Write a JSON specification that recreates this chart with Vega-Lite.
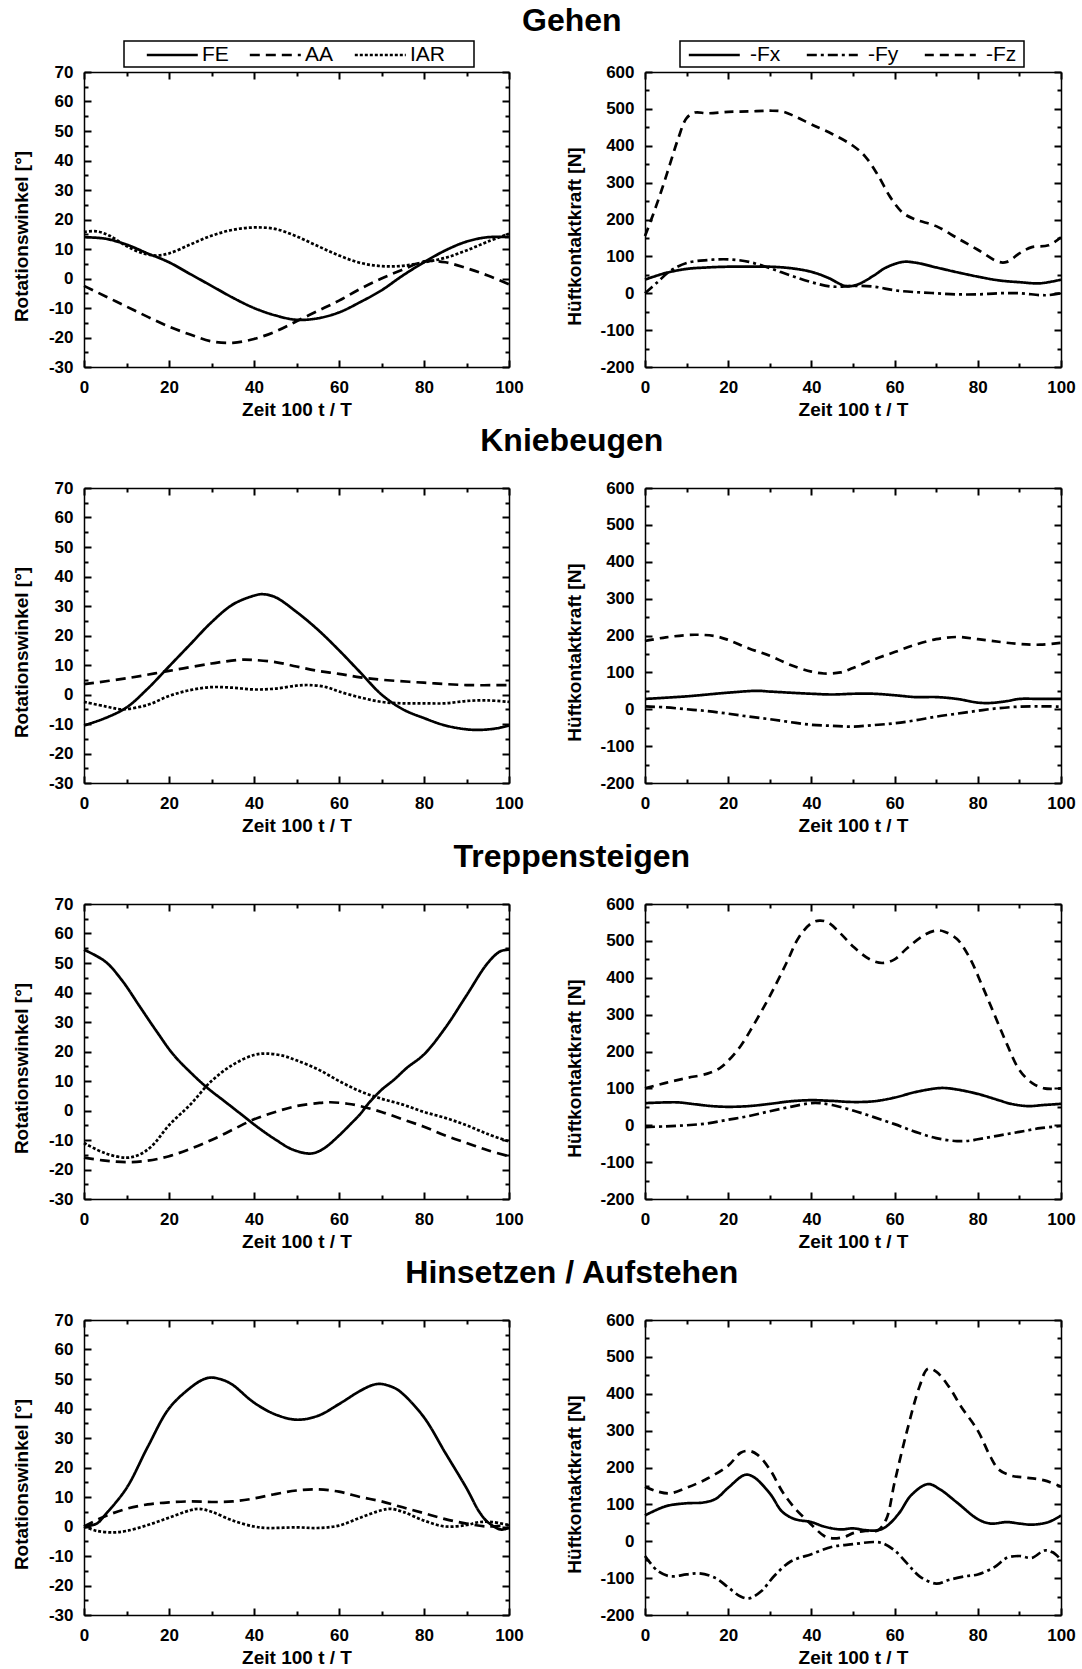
{
"$schema":"https://vega.github.io/schema/vega-lite/v6.json",
"padding":{"left":12,"top":5,"right":5,"bottom":0},
"config":{
 "font":"Liberation Sans",
 "view":{"stroke":null},
 "axis":{"domainColor":"black","domainWidth":1.5,"tickColor":"black","tickWidth":2,"labelFont":"Liberation Sans","labelFontSize":17,"labelFontWeight":"bold","labelColor":"black","titleFont":"Liberation Sans","titleFontSize":19,"titleFontWeight":"bold","titleColor":"black","grid":false,"labelFlush":false,"labelOverlap":false,"labelBound":false},
 "axisLeft":{"titleY":164},
 "legend":{"strokeColor":"black","strokeWidth":1.5,"padding":2,"labelFont":"Liberation Sans","labelFontSize":21,"labelFontWeight":"normal","labelColor":"black","symbolStrokeColor":"black","symbolStrokeWidth":2.5,"direction":"horizontal","orient":"none","titleOrient":"right","titleFontSize":10},
 "title":{"font":"Liberation Sans","fontSize":32,"fontWeight":"bold","color":"black","anchor":"middle","dx":28},
 "line":{"color":"black","strokeWidth":2.7,"interpolate":"catmull-rom"}
},
"datasets":{
"gw":[
{"s":"FE","t":0,"v":14},{"s":"FE","t":5,"v":13.5},{"s":"FE","t":10,"v":11.5},{"s":"FE","t":15,"v":8.5},{"s":"FE","t":20,"v":5.5},{"s":"FE","t":25,"v":1.5},{"s":"FE","t":30,"v":-2.5},{"s":"FE","t":35,"v":-6.5},{"s":"FE","t":40,"v":-10},{"s":"FE","t":45,"v":-12.5},{"s":"FE","t":50,"v":-14},{"s":"FE","t":55,"v":-13.5},{"s":"FE","t":60,"v":-11.5},{"s":"FE","t":65,"v":-8},{"s":"FE","t":70,"v":-4},{"s":"FE","t":75,"v":1},{"s":"FE","t":80,"v":5.5},{"s":"FE","t":85,"v":9.5},{"s":"FE","t":90,"v":12.5},{"s":"FE","t":95,"v":14},{"s":"FE","t":100,"v":14},
{"s":"AA","t":0,"v":-2.5},{"s":"AA","t":5,"v":-6},{"s":"AA","t":10,"v":-9.5},{"s":"AA","t":15,"v":-13},{"s":"AA","t":20,"v":-16.3},{"s":"AA","t":25,"v":-19},{"s":"AA","t":30,"v":-21.3},{"s":"AA","t":35,"v":-21.8},{"s":"AA","t":40,"v":-20.5},{"s":"AA","t":45,"v":-18},{"s":"AA","t":50,"v":-14.5},{"s":"AA","t":55,"v":-11},{"s":"AA","t":60,"v":-7.5},{"s":"AA","t":65,"v":-3.5},{"s":"AA","t":70,"v":0},{"s":"AA","t":75,"v":3},{"s":"AA","t":80,"v":5.8},{"s":"AA","t":85,"v":5.5},{"s":"AA","t":90,"v":3.5},{"s":"AA","t":95,"v":1},{"s":"AA","t":100,"v":-2},
{"s":"IAR","t":0,"v":15.8},{"s":"IAR","t":3,"v":16},{"s":"IAR","t":6,"v":14.5},{"s":"IAR","t":10,"v":11},{"s":"IAR","t":14,"v":8.5},{"s":"IAR","t":17,"v":7.8},{"s":"IAR","t":20,"v":8.5},{"s":"IAR","t":25,"v":11.5},{"s":"IAR","t":30,"v":14.5},{"s":"IAR","t":35,"v":16.5},{"s":"IAR","t":40,"v":17.3},{"s":"IAR","t":45,"v":16.8},{"s":"IAR","t":50,"v":14.3},{"s":"IAR","t":55,"v":11},{"s":"IAR","t":60,"v":7.8},{"s":"IAR","t":65,"v":5.3},{"s":"IAR","t":70,"v":4.2},{"s":"IAR","t":75,"v":4.3},{"s":"IAR","t":80,"v":5.5},{"s":"IAR","t":85,"v":7},{"s":"IAR","t":90,"v":9.5},{"s":"IAR","t":95,"v":12.5},{"s":"IAR","t":100,"v":15.2}
],
"gf":[
{"s":"-Fx","t":0,"v":37},{"s":"-Fx","t":5,"v":55},{"s":"-Fx","t":10,"v":66},{"s":"-Fx","t":15,"v":70},{"s":"-Fx","t":20,"v":72},{"s":"-Fx","t":25,"v":72},{"s":"-Fx","t":30,"v":72},{"s":"-Fx","t":35,"v":68},{"s":"-Fx","t":40,"v":58},{"s":"-Fx","t":44,"v":42},{"s":"-Fx","t":48,"v":20},{"s":"-Fx","t":50,"v":20},{"s":"-Fx","t":52,"v":28},{"s":"-Fx","t":55,"v":48},{"s":"-Fx","t":58,"v":70},{"s":"-Fx","t":62,"v":85},{"s":"-Fx","t":65,"v":83},{"s":"-Fx","t":70,"v":70},{"s":"-Fx","t":75,"v":57},{"s":"-Fx","t":80,"v":45},{"s":"-Fx","t":85,"v":35},{"s":"-Fx","t":90,"v":30},{"s":"-Fx","t":95,"v":27},{"s":"-Fx","t":100,"v":37},
{"s":"-Fy","t":0,"v":0},{"s":"-Fy","t":3,"v":30},{"s":"-Fy","t":6,"v":60},{"s":"-Fy","t":10,"v":82},{"s":"-Fy","t":15,"v":90},{"s":"-Fy","t":20,"v":92},{"s":"-Fy","t":25,"v":85},{"s":"-Fy","t":30,"v":68},{"s":"-Fy","t":35,"v":48},{"s":"-Fy","t":40,"v":30},{"s":"-Fy","t":45,"v":18},{"s":"-Fy","t":50,"v":20},{"s":"-Fy","t":55,"v":18},{"s":"-Fy","t":60,"v":8},{"s":"-Fy","t":65,"v":3},{"s":"-Fy","t":70,"v":0},{"s":"-Fy","t":75,"v":-3},{"s":"-Fy","t":80,"v":-3},{"s":"-Fy","t":85,"v":0},{"s":"-Fy","t":90,"v":0},{"s":"-Fy","t":95,"v":-5},{"s":"-Fy","t":97,"v":-5},{"s":"-Fy","t":100,"v":0},
{"s":"-Fz","t":0,"v":155},{"s":"-Fz","t":2,"v":215},{"s":"-Fz","t":4,"v":280},{"s":"-Fz","t":6,"v":350},{"s":"-Fz","t":8,"v":420},{"s":"-Fz","t":10,"v":475},{"s":"-Fz","t":12,"v":490},{"s":"-Fz","t":15,"v":488},{"s":"-Fz","t":20,"v":492},{"s":"-Fz","t":25,"v":493},{"s":"-Fz","t":30,"v":495},{"s":"-Fz","t":33,"v":493},{"s":"-Fz","t":36,"v":480},{"s":"-Fz","t":40,"v":458},{"s":"-Fz","t":45,"v":432},{"s":"-Fz","t":50,"v":400},{"s":"-Fz","t":53,"v":370},{"s":"-Fz","t":56,"v":320},{"s":"-Fz","t":59,"v":260},{"s":"-Fz","t":62,"v":218},{"s":"-Fz","t":65,"v":200},{"s":"-Fz","t":70,"v":182},{"s":"-Fz","t":75,"v":150},{"s":"-Fz","t":80,"v":118},{"s":"-Fz","t":85,"v":85},{"s":"-Fz","t":87,"v":85},{"s":"-Fz","t":90,"v":108},{"s":"-Fz","t":93,"v":125},{"s":"-Fz","t":97,"v":130},{"s":"-Fz","t":100,"v":152}
],
"kw":[
{"s":"FE","t":0,"v":-10.5},{"s":"FE","t":5,"v":-8},{"s":"FE","t":10,"v":-4.4},{"s":"FE","t":15,"v":2},{"s":"FE","t":20,"v":9.5},{"s":"FE","t":25,"v":17},{"s":"FE","t":30,"v":24.5},{"s":"FE","t":35,"v":30.5},{"s":"FE","t":40,"v":33.5},{"s":"FE","t":42,"v":34},{"s":"FE","t":45,"v":33},{"s":"FE","t":50,"v":28},{"s":"FE","t":55,"v":22},{"s":"FE","t":60,"v":15},{"s":"FE","t":65,"v":7.5},{"s":"FE","t":70,"v":0},{"s":"FE","t":75,"v":-5},{"s":"FE","t":80,"v":-8},{"s":"FE","t":85,"v":-10.5},{"s":"FE","t":90,"v":-11.8},{"s":"FE","t":93,"v":-12},{"s":"FE","t":97,"v":-11.5},{"s":"FE","t":100,"v":-10.5},
{"s":"AA","t":0,"v":3.5},{"s":"AA","t":10,"v":5.5},{"s":"AA","t":20,"v":8},{"s":"AA","t":30,"v":10.5},{"s":"AA","t":37,"v":11.8},{"s":"AA","t":40,"v":11.7},{"s":"AA","t":45,"v":11},{"s":"AA","t":50,"v":9.5},{"s":"AA","t":55,"v":8},{"s":"AA","t":60,"v":7},{"s":"AA","t":65,"v":5.8},{"s":"AA","t":70,"v":5},{"s":"AA","t":80,"v":4},{"s":"AA","t":90,"v":3.2},{"s":"AA","t":100,"v":3.2},
{"s":"IAR","t":0,"v":-2.5},{"s":"IAR","t":5,"v":-4},{"s":"IAR","t":9,"v":-5},{"s":"IAR","t":15,"v":-3.5},{"s":"IAR","t":20,"v":-0.5},{"s":"IAR","t":25,"v":1.5},{"s":"IAR","t":30,"v":2.5},{"s":"IAR","t":35,"v":2.3},{"s":"IAR","t":40,"v":1.7},{"s":"IAR","t":45,"v":2},{"s":"IAR","t":50,"v":3},{"s":"IAR","t":53,"v":3.2},{"s":"IAR","t":57,"v":2.5},{"s":"IAR","t":60,"v":1},{"s":"IAR","t":65,"v":-1},{"s":"IAR","t":70,"v":-2.5},{"s":"IAR","t":75,"v":-3},{"s":"IAR","t":80,"v":-3},{"s":"IAR","t":85,"v":-3},{"s":"IAR","t":90,"v":-2.2},{"s":"IAR","t":95,"v":-2},{"s":"IAR","t":100,"v":-2.5}
],
"kf":[
{"s":"-Fx","t":0,"v":28},{"s":"-Fx","t":10,"v":35},{"s":"-Fx","t":20,"v":45},{"s":"-Fx","t":27,"v":50},{"s":"-Fx","t":30,"v":48},{"s":"-Fx","t":40,"v":42},{"s":"-Fx","t":45,"v":40},{"s":"-Fx","t":50,"v":42},{"s":"-Fx","t":55,"v":42},{"s":"-Fx","t":60,"v":38},{"s":"-Fx","t":65,"v":33},{"s":"-Fx","t":70,"v":33},{"s":"-Fx","t":75,"v":28},{"s":"-Fx","t":80,"v":18},{"s":"-Fx","t":83,"v":17},{"s":"-Fx","t":87,"v":22},{"s":"-Fx","t":90,"v":28},{"s":"-Fx","t":95,"v":28},{"s":"-Fx","t":100,"v":28},
{"s":"-Fy","t":0,"v":8},{"s":"-Fy","t":5,"v":5},{"s":"-Fy","t":10,"v":0},{"s":"-Fy","t":15,"v":-5},{"s":"-Fy","t":20,"v":-12},{"s":"-Fy","t":25,"v":-20},{"s":"-Fy","t":30,"v":-27},{"s":"-Fy","t":35,"v":-35},{"s":"-Fy","t":40,"v":-42},{"s":"-Fy","t":45,"v":-45},{"s":"-Fy","t":50,"v":-47},{"s":"-Fy","t":55,"v":-43},{"s":"-Fy","t":60,"v":-38},{"s":"-Fy","t":65,"v":-30},{"s":"-Fy","t":70,"v":-20},{"s":"-Fy","t":75,"v":-12},{"s":"-Fy","t":80,"v":-4},{"s":"-Fy","t":85,"v":3},{"s":"-Fy","t":90,"v":7},{"s":"-Fy","t":95,"v":8},{"s":"-Fy","t":100,"v":7},
{"s":"-Fz","t":0,"v":185},{"s":"-Fz","t":5,"v":195},{"s":"-Fz","t":12,"v":202},{"s":"-Fz","t":17,"v":198},{"s":"-Fz","t":20,"v":188},{"s":"-Fz","t":25,"v":165},{"s":"-Fz","t":30,"v":145},{"s":"-Fz","t":35,"v":120},{"s":"-Fz","t":40,"v":102},{"s":"-Fz","t":43,"v":97},{"s":"-Fz","t":47,"v":100},{"s":"-Fz","t":50,"v":112},{"s":"-Fz","t":55,"v":135},{"s":"-Fz","t":60,"v":155},{"s":"-Fz","t":65,"v":175},{"s":"-Fz","t":70,"v":190},{"s":"-Fz","t":75,"v":196},{"s":"-Fz","t":80,"v":190},{"s":"-Fz","t":85,"v":183},{"s":"-Fz","t":90,"v":177},{"s":"-Fz","t":95,"v":175},{"s":"-Fz","t":100,"v":180}
],
"tw":[
{"s":"FE","t":0,"v":54.5},{"s":"FE","t":5,"v":50.5},{"s":"FE","t":9,"v":44},{"s":"FE","t":13,"v":35.5},{"s":"FE","t":17,"v":27},{"s":"FE","t":21,"v":19},{"s":"FE","t":25,"v":13},{"s":"FE","t":29,"v":7.7},{"s":"FE","t":33,"v":3.2},{"s":"FE","t":37,"v":-1.3},{"s":"FE","t":41,"v":-5.8},{"s":"FE","t":45,"v":-9.8},{"s":"FE","t":49,"v":-13.2},{"s":"FE","t":53,"v":-14.6},{"s":"FE","t":55,"v":-14},{"s":"FE","t":57,"v":-12.3},{"s":"FE","t":60,"v":-8.5},{"s":"FE","t":63,"v":-4.2},{"s":"FE","t":65,"v":-1.2},{"s":"FE","t":67,"v":2.5},{"s":"FE","t":70,"v":7},{"s":"FE","t":73,"v":10.5},{"s":"FE","t":76,"v":14.5},{"s":"FE","t":80,"v":19},{"s":"FE","t":85,"v":28},{"s":"FE","t":90,"v":39},{"s":"FE","t":95,"v":50},{"s":"FE","t":98,"v":54},{"s":"FE","t":100,"v":54.5},
{"s":"AA","t":0,"v":-16},{"s":"AA","t":5,"v":-17},{"s":"AA","t":10,"v":-17.5},{"s":"AA","t":15,"v":-17},{"s":"AA","t":20,"v":-15.5},{"s":"AA","t":25,"v":-13},{"s":"AA","t":30,"v":-10},{"s":"AA","t":35,"v":-6.5},{"s":"AA","t":40,"v":-3},{"s":"AA","t":45,"v":-0.5},{"s":"AA","t":50,"v":1.5},{"s":"AA","t":55,"v":2.5},{"s":"AA","t":58,"v":2.8},{"s":"AA","t":62,"v":2.3},{"s":"AA","t":65,"v":1.5},{"s":"AA","t":70,"v":-0.5},{"s":"AA","t":75,"v":-3},{"s":"AA","t":80,"v":-5.5},{"s":"AA","t":85,"v":-8.5},{"s":"AA","t":90,"v":-11},{"s":"AA","t":95,"v":-13.5},{"s":"AA","t":100,"v":-15.5},
{"s":"IAR","t":0,"v":-11},{"s":"IAR","t":5,"v":-14.5},{"s":"IAR","t":10,"v":-16},{"s":"IAR","t":13,"v":-15},{"s":"IAR","t":16,"v":-12},{"s":"IAR","t":20,"v":-5},{"s":"IAR","t":25,"v":2},{"s":"IAR","t":30,"v":10},{"s":"IAR","t":35,"v":15.5},{"s":"IAR","t":40,"v":18.8},{"s":"IAR","t":43,"v":19.3},{"s":"IAR","t":47,"v":18.5},{"s":"IAR","t":50,"v":17},{"s":"IAR","t":55,"v":14},{"s":"IAR","t":60,"v":10},{"s":"IAR","t":65,"v":6.5},{"s":"IAR","t":70,"v":4},{"s":"IAR","t":75,"v":2},{"s":"IAR","t":80,"v":-0.5},{"s":"IAR","t":85,"v":-2.5},{"s":"IAR","t":90,"v":-5},{"s":"IAR","t":95,"v":-8},{"s":"IAR","t":100,"v":-10.5}
],
"tf":[
{"s":"-Fx","t":0,"v":60},{"s":"-Fx","t":5,"v":62},{"s":"-Fx","t":8,"v":62},{"s":"-Fx","t":12,"v":57},{"s":"-Fx","t":16,"v":52},{"s":"-Fx","t":20,"v":50},{"s":"-Fx","t":25,"v":52},{"s":"-Fx","t":30,"v":58},{"s":"-Fx","t":35,"v":65},{"s":"-Fx","t":40,"v":68},{"s":"-Fx","t":45,"v":66},{"s":"-Fx","t":50,"v":63},{"s":"-Fx","t":55,"v":65},{"s":"-Fx","t":60,"v":75},{"s":"-Fx","t":65,"v":90},{"s":"-Fx","t":70,"v":100},{"s":"-Fx","t":72,"v":101},{"s":"-Fx","t":75,"v":97},{"s":"-Fx","t":80,"v":85},{"s":"-Fx","t":85,"v":68},{"s":"-Fx","t":88,"v":58},{"s":"-Fx","t":92,"v":52},{"s":"-Fx","t":96,"v":55},{"s":"-Fx","t":100,"v":58},
{"s":"-Fy","t":0,"v":-5},{"s":"-Fy","t":5,"v":-3},{"s":"-Fy","t":10,"v":0},{"s":"-Fy","t":15,"v":5},{"s":"-Fy","t":20,"v":15},{"s":"-Fy","t":25,"v":25},{"s":"-Fy","t":30,"v":38},{"s":"-Fy","t":35,"v":50},{"s":"-Fy","t":40,"v":60},{"s":"-Fy","t":42,"v":60},{"s":"-Fy","t":45,"v":55},{"s":"-Fy","t":50,"v":40},{"s":"-Fy","t":55,"v":22},{"s":"-Fy","t":60,"v":3},{"s":"-Fy","t":65,"v":-18},{"s":"-Fy","t":70,"v":-35},{"s":"-Fy","t":75,"v":-43},{"s":"-Fy","t":78,"v":-42},{"s":"-Fy","t":80,"v":-38},{"s":"-Fy","t":85,"v":-28},{"s":"-Fy","t":90,"v":-18},{"s":"-Fy","t":95,"v":-8},{"s":"-Fy","t":100,"v":-2},
{"s":"-Fz","t":0,"v":100},{"s":"-Fz","t":5,"v":115},{"s":"-Fz","t":10,"v":128},{"s":"-Fz","t":15,"v":140},{"s":"-Fz","t":18,"v":155},{"s":"-Fz","t":20,"v":175},{"s":"-Fz","t":23,"v":215},{"s":"-Fz","t":26,"v":270},{"s":"-Fz","t":30,"v":350},{"s":"-Fz","t":34,"v":440},{"s":"-Fz","t":37,"v":510},{"s":"-Fz","t":40,"v":548},{"s":"-Fz","t":42,"v":555},{"s":"-Fz","t":44,"v":550},{"s":"-Fz","t":47,"v":520},{"s":"-Fz","t":50,"v":485},{"s":"-Fz","t":54,"v":450},{"s":"-Fz","t":57,"v":440},{"s":"-Fz","t":60,"v":450},{"s":"-Fz","t":63,"v":480},{"s":"-Fz","t":67,"v":515},{"s":"-Fz","t":70,"v":528},{"s":"-Fz","t":72,"v":525},{"s":"-Fz","t":75,"v":505},{"s":"-Fz","t":78,"v":455},{"s":"-Fz","t":81,"v":380},{"s":"-Fz","t":84,"v":300},{"s":"-Fz","t":87,"v":220},{"s":"-Fz","t":90,"v":150},{"s":"-Fz","t":93,"v":115},{"s":"-Fz","t":96,"v":100},{"s":"-Fz","t":100,"v":100}
],
"hw":[
{"s":"FE","t":0,"v":0},{"s":"FE","t":3,"v":1},{"s":"FE","t":5,"v":4},{"s":"FE","t":10,"v":13},{"s":"FE","t":15,"v":27},{"s":"FE","t":20,"v":40},{"s":"FE","t":25,"v":47},{"s":"FE","t":28,"v":49.8},{"s":"FE","t":30,"v":50.5},{"s":"FE","t":33,"v":49.5},{"s":"FE","t":35,"v":48},{"s":"FE","t":40,"v":42},{"s":"FE","t":45,"v":38},{"s":"FE","t":50,"v":36.2},{"s":"FE","t":55,"v":37.5},{"s":"FE","t":60,"v":41.5},{"s":"FE","t":65,"v":46},{"s":"FE","t":68,"v":48},{"s":"FE","t":70,"v":48.3},{"s":"FE","t":73,"v":47},{"s":"FE","t":75,"v":45},{"s":"FE","t":80,"v":37},{"s":"FE","t":85,"v":25},{"s":"FE","t":90,"v":13},{"s":"FE","t":93,"v":5},{"s":"FE","t":95,"v":1.5},{"s":"FE","t":98,"v":-1},{"s":"FE","t":100,"v":-0.5},
{"s":"AA","t":0,"v":0},{"s":"AA","t":5,"v":3.5},{"s":"AA","t":10,"v":6},{"s":"AA","t":15,"v":7.5},{"s":"AA","t":20,"v":8.2},{"s":"AA","t":25,"v":8.5},{"s":"AA","t":30,"v":8.3},{"s":"AA","t":35,"v":8.5},{"s":"AA","t":40,"v":9.5},{"s":"AA","t":45,"v":11},{"s":"AA","t":50,"v":12.2},{"s":"AA","t":55,"v":12.6},{"s":"AA","t":60,"v":11.8},{"s":"AA","t":65,"v":10},{"s":"AA","t":70,"v":8.5},{"s":"AA","t":75,"v":6.5},{"s":"AA","t":80,"v":4.5},{"s":"AA","t":85,"v":2.5},{"s":"AA","t":90,"v":1},{"s":"AA","t":95,"v":0},{"s":"AA","t":100,"v":0.5},
{"s":"IAR","t":0,"v":0},{"s":"IAR","t":3,"v":-1.5},{"s":"IAR","t":7,"v":-2},{"s":"IAR","t":10,"v":-1.5},{"s":"IAR","t":15,"v":0.5},{"s":"IAR","t":20,"v":3},{"s":"IAR","t":25,"v":5.5},{"s":"IAR","t":27,"v":6},{"s":"IAR","t":30,"v":5},{"s":"IAR","t":35,"v":2},{"s":"IAR","t":40,"v":0},{"s":"IAR","t":43,"v":-0.5},{"s":"IAR","t":50,"v":-0.3},{"s":"IAR","t":55,"v":-0.5},{"s":"IAR","t":60,"v":0.3},{"s":"IAR","t":65,"v":3},{"s":"IAR","t":70,"v":5.5},{"s":"IAR","t":72,"v":6},{"s":"IAR","t":75,"v":5},{"s":"IAR","t":80,"v":2},{"s":"IAR","t":85,"v":0},{"s":"IAR","t":90,"v":0.5},{"s":"IAR","t":93,"v":1.5},{"s":"IAR","t":96,"v":1.5},{"s":"IAR","t":100,"v":0.5}
],
"hf":[
{"s":"-Fx","t":0,"v":70},{"s":"-Fx","t":5,"v":95},{"s":"-Fx","t":10,"v":103},{"s":"-Fx","t":14,"v":105},{"s":"-Fx","t":17,"v":115},{"s":"-Fx","t":20,"v":145},{"s":"-Fx","t":24,"v":180},{"s":"-Fx","t":26,"v":175},{"s":"-Fx","t":30,"v":130},{"s":"-Fx","t":33,"v":80},{"s":"-Fx","t":36,"v":60},{"s":"-Fx","t":40,"v":52},{"s":"-Fx","t":43,"v":40},{"s":"-Fx","t":47,"v":32},{"s":"-Fx","t":50,"v":35},{"s":"-Fx","t":53,"v":30},{"s":"-Fx","t":56,"v":30},{"s":"-Fx","t":58,"v":40},{"s":"-Fx","t":61,"v":75},{"s":"-Fx","t":64,"v":125},{"s":"-Fx","t":68,"v":155},{"s":"-Fx","t":71,"v":140},{"s":"-Fx","t":75,"v":105},{"s":"-Fx","t":80,"v":60},{"s":"-Fx","t":83,"v":48},{"s":"-Fx","t":87,"v":52},{"s":"-Fx","t":90,"v":48},{"s":"-Fx","t":93,"v":45},{"s":"-Fx","t":97,"v":52},{"s":"-Fx","t":100,"v":70},
{"s":"-Fy","t":0,"v":-40},{"s":"-Fy","t":3,"v":-80},{"s":"-Fy","t":6,"v":-95},{"s":"-Fy","t":10,"v":-90},{"s":"-Fy","t":13,"v":-87},{"s":"-Fy","t":17,"v":-100},{"s":"-Fy","t":20,"v":-125},{"s":"-Fy","t":23,"v":-150},{"s":"-Fy","t":25,"v":-155},{"s":"-Fy","t":28,"v":-135},{"s":"-Fy","t":31,"v":-95},{"s":"-Fy","t":35,"v":-55},{"s":"-Fy","t":40,"v":-35},{"s":"-Fy","t":45,"v":-15},{"s":"-Fy","t":50,"v":-8},{"s":"-Fy","t":55,"v":-2},{"s":"-Fy","t":57,"v":-5},{"s":"-Fy","t":60,"v":-25},{"s":"-Fy","t":63,"v":-60},{"s":"-Fy","t":66,"v":-95},{"s":"-Fy","t":70,"v":-115},{"s":"-Fy","t":73,"v":-105},{"s":"-Fy","t":77,"v":-95},{"s":"-Fy","t":80,"v":-90},{"s":"-Fy","t":84,"v":-70},{"s":"-Fy","t":87,"v":-45},{"s":"-Fy","t":90,"v":-40},{"s":"-Fy","t":93,"v":-45},{"s":"-Fy","t":96,"v":-25},{"s":"-Fy","t":98,"v":-30},{"s":"-Fy","t":100,"v":-50},
{"s":"-Fz","t":0,"v":148},{"s":"-Fz","t":3,"v":135},{"s":"-Fz","t":6,"v":130},{"s":"-Fz","t":10,"v":145},{"s":"-Fz","t":15,"v":170},{"s":"-Fz","t":20,"v":205},{"s":"-Fz","t":23,"v":240},{"s":"-Fz","t":25,"v":245},{"s":"-Fz","t":27,"v":235},{"s":"-Fz","t":30,"v":195},{"s":"-Fz","t":33,"v":135},{"s":"-Fz","t":36,"v":90},{"s":"-Fz","t":40,"v":45},{"s":"-Fz","t":43,"v":15},{"s":"-Fz","t":45,"v":8},{"s":"-Fz","t":48,"v":12},{"s":"-Fz","t":50,"v":22},{"s":"-Fz","t":53,"v":28},{"s":"-Fz","t":56,"v":30},{"s":"-Fz","t":58,"v":60},{"s":"-Fz","t":60,"v":160},{"s":"-Fz","t":63,"v":300},{"s":"-Fz","t":66,"v":420},{"s":"-Fz","t":68,"v":468},{"s":"-Fz","t":70,"v":460},{"s":"-Fz","t":73,"v":420},{"s":"-Fz","t":76,"v":365},{"s":"-Fz","t":80,"v":300},{"s":"-Fz","t":83,"v":230},{"s":"-Fz","t":85,"v":195},{"s":"-Fz","t":88,"v":178},{"s":"-Fz","t":92,"v":172},{"s":"-Fz","t":96,"v":165},{"s":"-Fz","t":100,"v":148}
]
},
"spacing":6,
"resolve":{"scale":{"strokeDash":"independent"},"legend":{"strokeDash":"independent"}},
"vconcat":[
{"title":{"text":"Gehen","offset":2},"spacing":41,"resolve":{"scale":{"strokeDash":"independent"},"legend":{"strokeDash":"independent"}},
"hconcat":[
{"width":425,"height":295,"data":{"name":"gw"},"resolve":{"axis":{"x":"independent","y":"independent"}},"layer":[
 {"mark":{"type":"line"},"encoding":{
  "x":{"field":"t","type":"quantitative","scale":{"domain":[0,100],"nice":false},"axis":{"orient":"bottom","values":[0,10,20,30,40,50,60,70,80,90,100],"labelExpr":"datum.value % 20 == 0 ? '' + datum.value : ''","tickSize":{"condition":{"test":"datum.value % 20 == 0","value":-7},"value":-4},"labelPadding":19,"title":"Zeit 100 t / T","titlePadding":2}},
  "y":{"field":"v","type":"quantitative","scale":{"domain":[-30,70],"nice":false,"zero":false},"axis":{"orient":"left","values":[-30,-25,-20,-15,-10,-5,0,5,10,15,20,25,30,35,40,45,50,55,60,65,70],"labelExpr":"datum.value % 10 == 0 ? '' + datum.value : ''","tickSize":{"condition":{"test":"datum.value % 10 == 0","value":-7},"value":-4},"labelPadding":18,"title":"Rotationswinkel [°]","titlePadding":17}},
  "strokeDash":{"field":"s","type":"nominal","scale":{"domain":["FE","AA","IAR"],"range":[[1,0],[10,6],[3,2]]},"legend":{"title":" ","titlePadding":27,"legendX":40,"legendY":-31,"symbolType":"M-1,0H4","symbolSize":416,"symbolOffset":19,"labelOffset":33,"columnPadding":0}}}},
 {"mark":{"type":"line","opacity":0},"encoding":{
  "x":{"field":"t","type":"quantitative","axis":{"orient":"top","values":[0,10,20,30,40,50,60,70,80,90,100],"labels":false,"tickSize":{"condition":{"test":"datum.value % 20 == 0","value":-7},"value":-4},"title":null}},
  "y":{"field":"v","type":"quantitative","axis":{"orient":"right","values":[-30,-25,-20,-15,-10,-5,0,5,10,15,20,25,30,35,40,45,50,55,60,65,70],"labels":false,"tickSize":{"condition":{"test":"datum.value % 10 == 0","value":-7},"value":-4},"title":null}}}}
]},
{"width":416,"height":295,"data":{"name":"gf"},"resolve":{"axis":{"x":"independent","y":"independent"}},"layer":[
 {"mark":{"type":"line"},"encoding":{
  "x":{"field":"t","type":"quantitative","scale":{"domain":[0,100],"nice":false},"axis":{"orient":"bottom","values":[0,10,20,30,40,50,60,70,80,90,100],"labelExpr":"datum.value % 20 == 0 ? '' + datum.value : ''","tickSize":{"condition":{"test":"datum.value % 20 == 0","value":-7},"value":-4},"labelPadding":19,"title":"Zeit 100 t / T","titlePadding":2}},
  "y":{"field":"v","type":"quantitative","scale":{"domain":[-200,600],"nice":false,"zero":false},"axis":{"orient":"left","values":[-200,-150,-100,-50,0,50,100,150,200,250,300,350,400,450,500,550,600],"labelExpr":"datum.value % 100 == 0 ? '' + datum.value : ''","tickSize":{"condition":{"test":"datum.value % 100 == 0","value":-7},"value":-4},"labelPadding":18,"title":"Hüftkontaktkraft [N]","titlePadding":15}},
  "strokeDash":{"field":"s","type":"nominal","scale":{"domain":["-Fx","-Fy","-Fz"],"range":[[1,0],[10,4,3,4],[9,6]]},"legend":{"title":" ","titlePadding":6,"legendX":35,"legendY":-31,"symbolType":"M-1,0H4","symbolSize":416,"symbolOffset":5,"labelOffset":39,"columnPadding":19}}}},
 {"mark":{"type":"line","opacity":0},"encoding":{
  "x":{"field":"t","type":"quantitative","axis":{"orient":"top","values":[0,10,20,30,40,50,60,70,80,90,100],"labels":false,"tickSize":{"condition":{"test":"datum.value % 20 == 0","value":-7},"value":-4},"title":null}},
  "y":{"field":"v","type":"quantitative","axis":{"orient":"right","values":[-200,-150,-100,-50,0,50,100,150,200,250,300,350,400,450,500,550,600],"labels":false,"tickSize":{"condition":{"test":"datum.value % 100 == 0","value":-7},"value":-4},"title":null}}}}
]}
]},
{"title":{"text":"Kniebeugen","offset":21},"spacing":41,"resolve":{"scale":{"strokeDash":"independent"},"legend":{"strokeDash":"independent"}},
"hconcat":[
{"width":425,"height":295,"data":{"name":"kw"},"resolve":{"axis":{"x":"independent","y":"independent"}},"layer":[
 {"mark":{"type":"line"},"encoding":{
  "x":{"field":"t","type":"quantitative","scale":{"domain":[0,100],"nice":false},"axis":{"orient":"bottom","values":[0,10,20,30,40,50,60,70,80,90,100],"labelExpr":"datum.value % 20 == 0 ? '' + datum.value : ''","tickSize":{"condition":{"test":"datum.value % 20 == 0","value":-7},"value":-4},"labelPadding":19,"title":"Zeit 100 t / T","titlePadding":2}},
  "y":{"field":"v","type":"quantitative","scale":{"domain":[-30,70],"nice":false,"zero":false},"axis":{"orient":"left","values":[-30,-25,-20,-15,-10,-5,0,5,10,15,20,25,30,35,40,45,50,55,60,65,70],"labelExpr":"datum.value % 10 == 0 ? '' + datum.value : ''","tickSize":{"condition":{"test":"datum.value % 10 == 0","value":-7},"value":-4},"labelPadding":18,"title":"Rotationswinkel [°]","titlePadding":17}},
  "strokeDash":{"field":"s","type":"nominal","scale":{"domain":["FE","AA","IAR"],"range":[[1,0],[10,6],[3,2]]},"legend":null}}},
 {"mark":{"type":"line","opacity":0},"encoding":{
  "x":{"field":"t","type":"quantitative","axis":{"orient":"top","values":[0,10,20,30,40,50,60,70,80,90,100],"labels":false,"tickSize":{"condition":{"test":"datum.value % 20 == 0","value":-7},"value":-4},"title":null}},
  "y":{"field":"v","type":"quantitative","axis":{"orient":"right","values":[-30,-25,-20,-15,-10,-5,0,5,10,15,20,25,30,35,40,45,50,55,60,65,70],"labels":false,"tickSize":{"condition":{"test":"datum.value % 10 == 0","value":-7},"value":-4},"title":null}}}}
]},
{"width":416,"height":295,"data":{"name":"kf"},"resolve":{"axis":{"x":"independent","y":"independent"}},"layer":[
 {"mark":{"type":"line"},"encoding":{
  "x":{"field":"t","type":"quantitative","scale":{"domain":[0,100],"nice":false},"axis":{"orient":"bottom","values":[0,10,20,30,40,50,60,70,80,90,100],"labelExpr":"datum.value % 20 == 0 ? '' + datum.value : ''","tickSize":{"condition":{"test":"datum.value % 20 == 0","value":-7},"value":-4},"labelPadding":19,"title":"Zeit 100 t / T","titlePadding":2}},
  "y":{"field":"v","type":"quantitative","scale":{"domain":[-200,600],"nice":false,"zero":false},"axis":{"orient":"left","values":[-200,-150,-100,-50,0,50,100,150,200,250,300,350,400,450,500,550,600],"labelExpr":"datum.value % 100 == 0 ? '' + datum.value : ''","tickSize":{"condition":{"test":"datum.value % 100 == 0","value":-7},"value":-4},"labelPadding":18,"title":"Hüftkontaktkraft [N]","titlePadding":15}},
  "strokeDash":{"field":"s","type":"nominal","scale":{"domain":["-Fx","-Fy","-Fz"],"range":[[1,0],[10,4,3,4],[9,6]]},"legend":null}}},
 {"mark":{"type":"line","opacity":0},"encoding":{
  "x":{"field":"t","type":"quantitative","axis":{"orient":"top","values":[0,10,20,30,40,50,60,70,80,90,100],"labels":false,"tickSize":{"condition":{"test":"datum.value % 20 == 0","value":-7},"value":-4},"title":null}},
  "y":{"field":"v","type":"quantitative","axis":{"orient":"right","values":[-200,-150,-100,-50,0,50,100,150,200,250,300,350,400,450,500,550,600],"labels":false,"tickSize":{"condition":{"test":"datum.value % 100 == 0","value":-7},"value":-4},"title":null}}}}
]}
]},
{"title":{"text":"Treppensteigen","offset":21},"spacing":41,"resolve":{"scale":{"strokeDash":"independent"},"legend":{"strokeDash":"independent"}},
"hconcat":[
{"width":425,"height":295,"data":{"name":"tw"},"resolve":{"axis":{"x":"independent","y":"independent"}},"layer":[
 {"mark":{"type":"line"},"encoding":{
  "x":{"field":"t","type":"quantitative","scale":{"domain":[0,100],"nice":false},"axis":{"orient":"bottom","values":[0,10,20,30,40,50,60,70,80,90,100],"labelExpr":"datum.value % 20 == 0 ? '' + datum.value : ''","tickSize":{"condition":{"test":"datum.value % 20 == 0","value":-7},"value":-4},"labelPadding":19,"title":"Zeit 100 t / T","titlePadding":2}},
  "y":{"field":"v","type":"quantitative","scale":{"domain":[-30,70],"nice":false,"zero":false},"axis":{"orient":"left","values":[-30,-25,-20,-15,-10,-5,0,5,10,15,20,25,30,35,40,45,50,55,60,65,70],"labelExpr":"datum.value % 10 == 0 ? '' + datum.value : ''","tickSize":{"condition":{"test":"datum.value % 10 == 0","value":-7},"value":-4},"labelPadding":18,"title":"Rotationswinkel [°]","titlePadding":17}},
  "strokeDash":{"field":"s","type":"nominal","scale":{"domain":["FE","AA","IAR"],"range":[[1,0],[10,6],[3,2]]},"legend":null}}},
 {"mark":{"type":"line","opacity":0},"encoding":{
  "x":{"field":"t","type":"quantitative","axis":{"orient":"top","values":[0,10,20,30,40,50,60,70,80,90,100],"labels":false,"tickSize":{"condition":{"test":"datum.value % 20 == 0","value":-7},"value":-4},"title":null}},
  "y":{"field":"v","type":"quantitative","axis":{"orient":"right","values":[-30,-25,-20,-15,-10,-5,0,5,10,15,20,25,30,35,40,45,50,55,60,65,70],"labels":false,"tickSize":{"condition":{"test":"datum.value % 10 == 0","value":-7},"value":-4},"title":null}}}}
]},
{"width":416,"height":295,"data":{"name":"tf"},"resolve":{"axis":{"x":"independent","y":"independent"}},"layer":[
 {"mark":{"type":"line"},"encoding":{
  "x":{"field":"t","type":"quantitative","scale":{"domain":[0,100],"nice":false},"axis":{"orient":"bottom","values":[0,10,20,30,40,50,60,70,80,90,100],"labelExpr":"datum.value % 20 == 0 ? '' + datum.value : ''","tickSize":{"condition":{"test":"datum.value % 20 == 0","value":-7},"value":-4},"labelPadding":19,"title":"Zeit 100 t / T","titlePadding":2}},
  "y":{"field":"v","type":"quantitative","scale":{"domain":[-200,600],"nice":false,"zero":false},"axis":{"orient":"left","values":[-200,-150,-100,-50,0,50,100,150,200,250,300,350,400,450,500,550,600],"labelExpr":"datum.value % 100 == 0 ? '' + datum.value : ''","tickSize":{"condition":{"test":"datum.value % 100 == 0","value":-7},"value":-4},"labelPadding":18,"title":"Hüftkontaktkraft [N]","titlePadding":15}},
  "strokeDash":{"field":"s","type":"nominal","scale":{"domain":["-Fx","-Fy","-Fz"],"range":[[1,0],[10,4,3,4],[9,6]]},"legend":null}}},
 {"mark":{"type":"line","opacity":0},"encoding":{
  "x":{"field":"t","type":"quantitative","axis":{"orient":"top","values":[0,10,20,30,40,50,60,70,80,90,100],"labels":false,"tickSize":{"condition":{"test":"datum.value % 20 == 0","value":-7},"value":-4},"title":null}},
  "y":{"field":"v","type":"quantitative","axis":{"orient":"right","values":[-200,-150,-100,-50,0,50,100,150,200,250,300,350,400,450,500,550,600],"labels":false,"tickSize":{"condition":{"test":"datum.value % 100 == 0","value":-7},"value":-4},"title":null}}}}
]}
]},
{"title":{"text":"Hinsetzen / Aufstehen","offset":21},"spacing":41,"resolve":{"scale":{"strokeDash":"independent"},"legend":{"strokeDash":"independent"}},
"hconcat":[
{"width":425,"height":295,"data":{"name":"hw"},"resolve":{"axis":{"x":"independent","y":"independent"}},"layer":[
 {"mark":{"type":"line"},"encoding":{
  "x":{"field":"t","type":"quantitative","scale":{"domain":[0,100],"nice":false},"axis":{"orient":"bottom","values":[0,10,20,30,40,50,60,70,80,90,100],"labelExpr":"datum.value % 20 == 0 ? '' + datum.value : ''","tickSize":{"condition":{"test":"datum.value % 20 == 0","value":-7},"value":-4},"labelPadding":19,"title":"Zeit 100 t / T","titlePadding":2}},
  "y":{"field":"v","type":"quantitative","scale":{"domain":[-30,70],"nice":false,"zero":false},"axis":{"orient":"left","values":[-30,-25,-20,-15,-10,-5,0,5,10,15,20,25,30,35,40,45,50,55,60,65,70],"labelExpr":"datum.value % 10 == 0 ? '' + datum.value : ''","tickSize":{"condition":{"test":"datum.value % 10 == 0","value":-7},"value":-4},"labelPadding":18,"title":"Rotationswinkel [°]","titlePadding":17}},
  "strokeDash":{"field":"s","type":"nominal","scale":{"domain":["FE","AA","IAR"],"range":[[1,0],[10,6],[3,2]]},"legend":null}}},
 {"mark":{"type":"line","opacity":0},"encoding":{
  "x":{"field":"t","type":"quantitative","axis":{"orient":"top","values":[0,10,20,30,40,50,60,70,80,90,100],"labels":false,"tickSize":{"condition":{"test":"datum.value % 20 == 0","value":-7},"value":-4},"title":null}},
  "y":{"field":"v","type":"quantitative","axis":{"orient":"right","values":[-30,-25,-20,-15,-10,-5,0,5,10,15,20,25,30,35,40,45,50,55,60,65,70],"labels":false,"tickSize":{"condition":{"test":"datum.value % 10 == 0","value":-7},"value":-4},"title":null}}}}
]},
{"width":416,"height":295,"data":{"name":"hf"},"resolve":{"axis":{"x":"independent","y":"independent"}},"layer":[
 {"mark":{"type":"line"},"encoding":{
  "x":{"field":"t","type":"quantitative","scale":{"domain":[0,100],"nice":false},"axis":{"orient":"bottom","values":[0,10,20,30,40,50,60,70,80,90,100],"labelExpr":"datum.value % 20 == 0 ? '' + datum.value : ''","tickSize":{"condition":{"test":"datum.value % 20 == 0","value":-7},"value":-4},"labelPadding":19,"title":"Zeit 100 t / T","titlePadding":2}},
  "y":{"field":"v","type":"quantitative","scale":{"domain":[-200,600],"nice":false,"zero":false},"axis":{"orient":"left","values":[-200,-150,-100,-50,0,50,100,150,200,250,300,350,400,450,500,550,600],"labelExpr":"datum.value % 100 == 0 ? '' + datum.value : ''","tickSize":{"condition":{"test":"datum.value % 100 == 0","value":-7},"value":-4},"labelPadding":18,"title":"Hüftkontaktkraft [N]","titlePadding":15}},
  "strokeDash":{"field":"s","type":"nominal","scale":{"domain":["-Fx","-Fy","-Fz"],"range":[[1,0],[10,4,3,4],[9,6]]},"legend":null}}},
 {"mark":{"type":"line","opacity":0},"encoding":{
  "x":{"field":"t","type":"quantitative","axis":{"orient":"top","values":[0,10,20,30,40,50,60,70,80,90,100],"labels":false,"tickSize":{"condition":{"test":"datum.value % 20 == 0","value":-7},"value":-4},"title":null}},
  "y":{"field":"v","type":"quantitative","axis":{"orient":"right","values":[-200,-150,-100,-50,0,50,100,150,200,250,300,350,400,450,500,550,600],"labels":false,"tickSize":{"condition":{"test":"datum.value % 100 == 0","value":-7},"value":-4},"title":null}}}}
]}
]}
]
}
